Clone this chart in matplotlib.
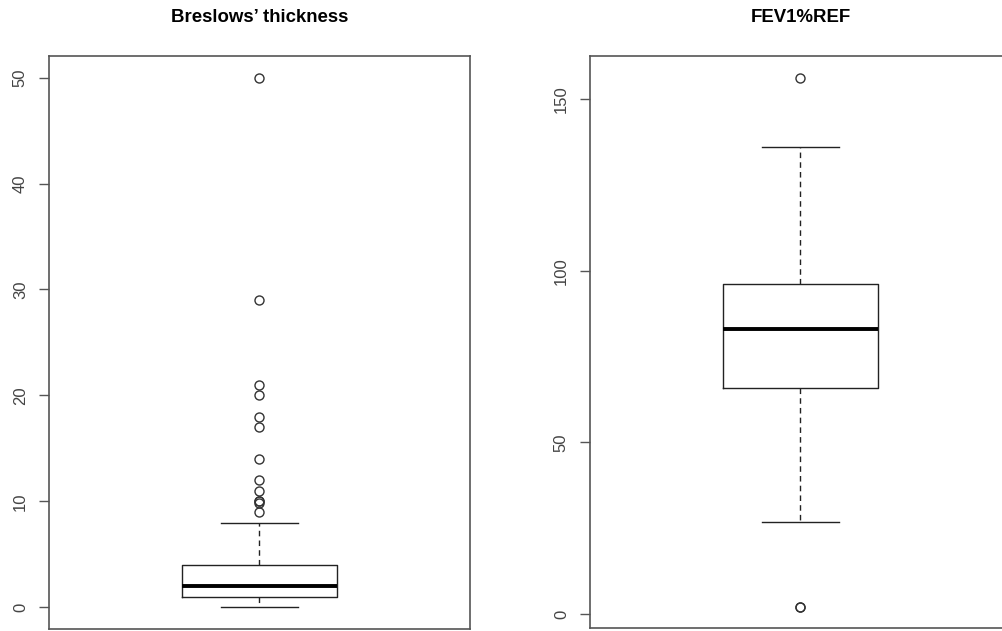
import matplotlib.pyplot as plt

plt.rcParams['font.family'] = ['Liberation Sans', 'DejaVu Sans']

# Breslows' thickness
bres_stats = dict(whislo=0, q1=1, med=2, q3=4, whishi=8,
                  fliers=[50, 29, 21, 20, 18, 17, 14, 12, 11, 10, 10, 9.85, 9])
# FEV1%REF
fev_stats = dict(whislo=27, q1=66, med=83, q3=96, whishi=136,
                 fliers=[156, 2, 2.2])

titles = ["Breslows\u2019 thickness", "FEV1%REF"]
ylims = [(-2.08, 52.04), (-4.0, 162.5)]
yticks = [[0, 10, 20, 30, 40, 50], [0, 50, 100, 150]]

fig = plt.figure(figsize=(10.03, 6.31), dpi=100)
ax1 = fig.add_axes([49/1003, 1.7/631, 421/1003, 573.3/631])
ax2 = fig.add_axes([590/1003, 3/631, 421/1003, 572/631])

for ax, st, title, yl, yt in zip([ax1, ax2], [bres_stats, fev_stats], titles, ylims, yticks):
    ax.bxp([st], positions=[1], widths=0.4, showfliers=True,
           boxprops=dict(color='#222222', lw=1.0),
           medianprops=dict(color='black', lw=2.8, solid_capstyle='butt'),
           whiskerprops=dict(color='#222222', lw=1.0, linestyle=(0, (4, 3))),
           capprops=dict(color='#222222', lw=1.0),
           capwidths=0.2,
           flierprops=dict(marker='o', markerfacecolor='none', markeredgecolor='#333333',
                           markersize=6.5, markeredgewidth=1.0))
    ax.set_xlim(0.46, 1.54)
    ax.set_ylim(*yl)
    ax.set_yticks(yt)
    ax.set_yticklabels([str(v) for v in yt], rotation=90, va='center', fontsize=12, color='#444444')
    ax.set_xticks([])
    ax.tick_params(axis='y', length=7.2, width=1, color='#555555', pad=8)
    for s in ax.spines.values():
        s.set_color('#555555')
        s.set_linewidth(1.2)
    fig.text(ax.get_position().x0 + ax.get_position().width / 2, 1 - 17/631, title,
             ha='center', va='center', fontsize=13.4, fontweight='bold')

fig.savefig('out.png', dpi=100)
